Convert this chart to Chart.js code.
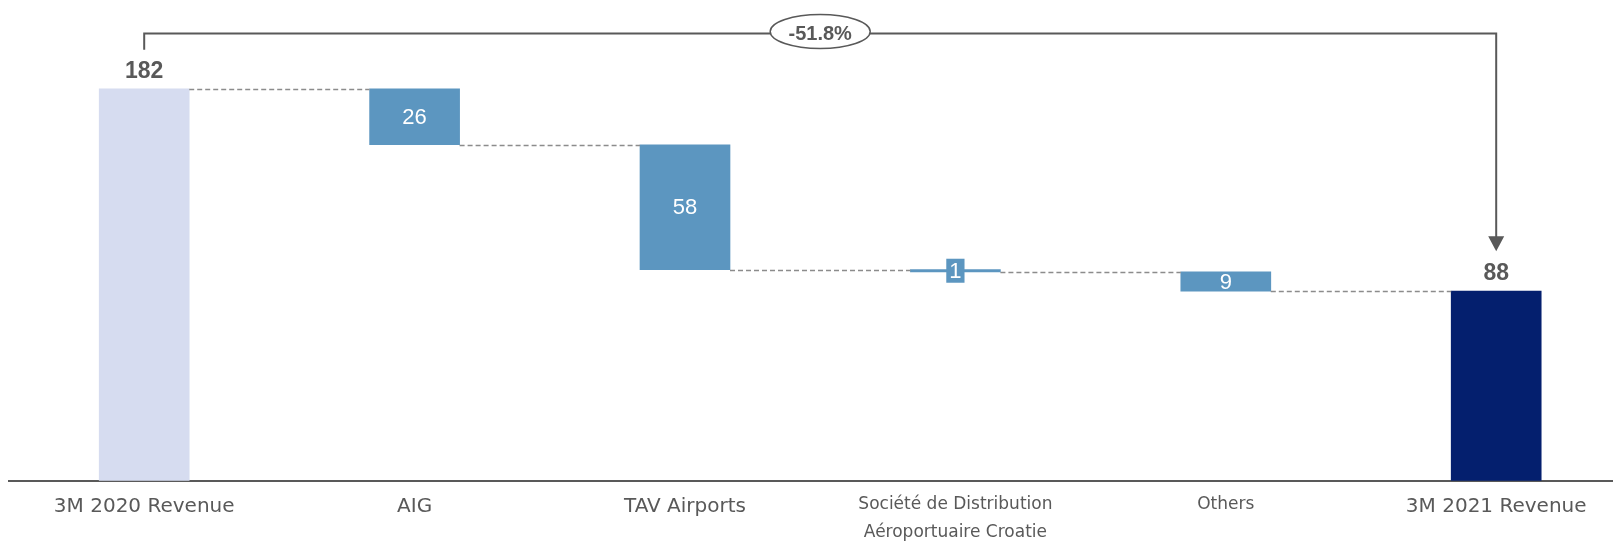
<!DOCTYPE html>
<html>
<head>
<meta charset="utf-8">
<title>Revenue bridge</title>
<script src="https://cdn.jsdelivr.net/npm/chart.js@4"></script>
<style>
    html, body { margin: 0; padding: 0; background: #ffffff; overflow: hidden; }
    #wrap { position: absolute; left: 0; top: 0; width: 1632px; height: 541px; }
</style>
</head>
<body>
<div id="wrap"><canvas id="bridgeChart"></canvas></div>
<script>
const categories = [
    '3M 2020 Revenue',
    'AIG',
    'TAV Airports',
    ['Société de Distribution', 'Aéroportuaire Croatie'],
    'Others',
    '3M 2021 Revenue'
];
const startValue = 182;
const changes = [-26, -58, -1, -9];
const endValue = 88;
const valueLabels = ['182', '26', '58', '1', '9', '88'];
const changeLabel = '-51.8%';

const colorStart = '#D6DCF0';
const colorStep = '#5C96C0';
const colorEnd = '#041F6E';
const textGray = '#595959';

// floating bars: [low, high] for every step
const ranges = [];
const levels = [];
let running = startValue;
ranges.push([0, startValue]);
levels.push(running);
changes.forEach((c) => {
    ranges.push([running + c, running]);
    running += c;
    levels.push(running);
});
ranges.push([0, endValue]);

const barColors = ranges.map((_, i) => {
    if (i === 0) return colorStart;
    if (i === ranges.length - 1) return colorEnd;
    return colorStep;
});

const waterfallExtras = {
    id: 'waterfallExtras',
    afterDatasetsDraw(chart) {
        const { ctx, scales: { x, y } } = chart;
        const bars = chart.getDatasetMeta(0).data;
        const last = bars.length - 1;
        ctx.save();

        // dashed connectors between bars
        ctx.strokeStyle = '#8c8c8c';
        ctx.lineWidth = 1.3;
        ctx.setLineDash([5, 3]);
        levels.forEach((lvl, i) => {
            const a = bars[i];
            const b = bars[i + 1];
            const py = Math.round(y.getPixelForValue(lvl)) + 0.5;
            ctx.beginPath();
            ctx.moveTo(a.x + a.width / 2, py);
            ctx.lineTo(b.x - b.width / 2, py);
            ctx.stroke();
        });
        ctx.setLineDash([]);

        // value labels
        ctx.textAlign = 'center';
        ctx.textBaseline = 'middle';
        bars.forEach((bar, i) => {
            const [lo, hi] = ranges[i];
            const yHi = y.getPixelForValue(hi);
            const yLo = y.getPixelForValue(lo);
            if (i === 0 || i === last) {
                ctx.font = 'bold 23px "Liberation Sans", Arial, sans-serif';
                ctx.fillStyle = textGray;
                ctx.fillText(valueLabels[i], bar.x, yHi - 17.5);
                return;
            }
            ctx.font = '22px "Liberation Sans", Arial, sans-serif';
            const cy = (yHi + yLo) / 2;
            if (yLo - yHi < 10) {
                // tiny bar: label gets its own box like the source
                const tw = ctx.measureText(valueLabels[i]).width;
                ctx.fillStyle = colorStep;
                ctx.fillRect(bar.x - tw / 2 - 3, cy - 12, tw + 6, 24);
            }
            ctx.fillStyle = '#ffffff';
            ctx.fillText(valueLabels[i], bar.x, cy + 1);
        });

        // overall change bracket with arrow
        const xl = x.getPixelForValue(0);
        const xr = x.getPixelForValue(last);
        const top = chart.chartArea.top - 16.5;
        const yl = y.getPixelForValue(startValue) - 39;
        const tip = y.getPixelForValue(endValue) - 40;
        ctx.strokeStyle = textGray;
        ctx.fillStyle = textGray;
        ctx.lineWidth = 2;
        ctx.beginPath();
        ctx.moveTo(xl, yl);
        ctx.lineTo(xl, top);
        ctx.lineTo(xr, top);
        ctx.lineTo(xr, tip - 12);
        ctx.stroke();
        ctx.beginPath();
        ctx.moveTo(xr - 8, tip - 15);
        ctx.lineTo(xr + 8, tip - 15);
        ctx.lineTo(xr, tip);
        ctx.closePath();
        ctx.fill();

        const cx = (xl + xr) / 2;
        ctx.beginPath();
        ctx.ellipse(cx, top - 2, 50, 17, 0, 0, Math.PI * 2);
        ctx.fillStyle = '#ffffff';
        ctx.fill();
        ctx.lineWidth = 1.5;
        ctx.stroke();
        ctx.fillStyle = textGray;
        ctx.font = 'bold 20px "Liberation Sans", Arial, sans-serif';
        ctx.fillText(changeLabel, cx, top + 1);

        ctx.restore();
    }
};

const bigFont = { family: '"DejaVu Sans", sans-serif', size: 20, lineHeight: '32px' };
const smallFont = { family: '"DejaVu Sans", sans-serif', size: 17, lineHeight: '28px' };

const bridgeCanvas = document.getElementById('bridgeChart').getContext('2d');
const bridgeChart = new Chart(bridgeCanvas, {
    type: 'bar',
    data: {
        labels: categories,
        datasets: [
            {
                data: ranges,
                backgroundColor: barColors,
                borderWidth: 0,
                barThickness: 90,
            },
        ],
    },
    options: {
        responsive: true,
        maintainAspectRatio: false,
        animation: false,
        layout: { padding: { left: 9, right: 0.6, top: 50, bottom: 0 } },
        plugins: {
            legend: { display: false },
            tooltip: { enabled: false },
        },
        scales: {
            x: {
                grid: { display: false, drawTicks: false },
                border: { display: true, color: textGray, width: 2 },
                afterFit: (scale) => { scale.height = 60.3; },
                ticks: {
                    color: textGray,
                    padding: 10,
                    maxRotation: 0,
                    autoSkip: false,
                    font: (ctx) => (ctx.index === 3 || ctx.index === 4 ? smallFont : bigFont),
                },
            },
            y: {
                display: false,
                min: 0,
                max: 200,
            },
        },
    },
    plugins: [waterfallExtras],
});
</script>
</body>
</html>
